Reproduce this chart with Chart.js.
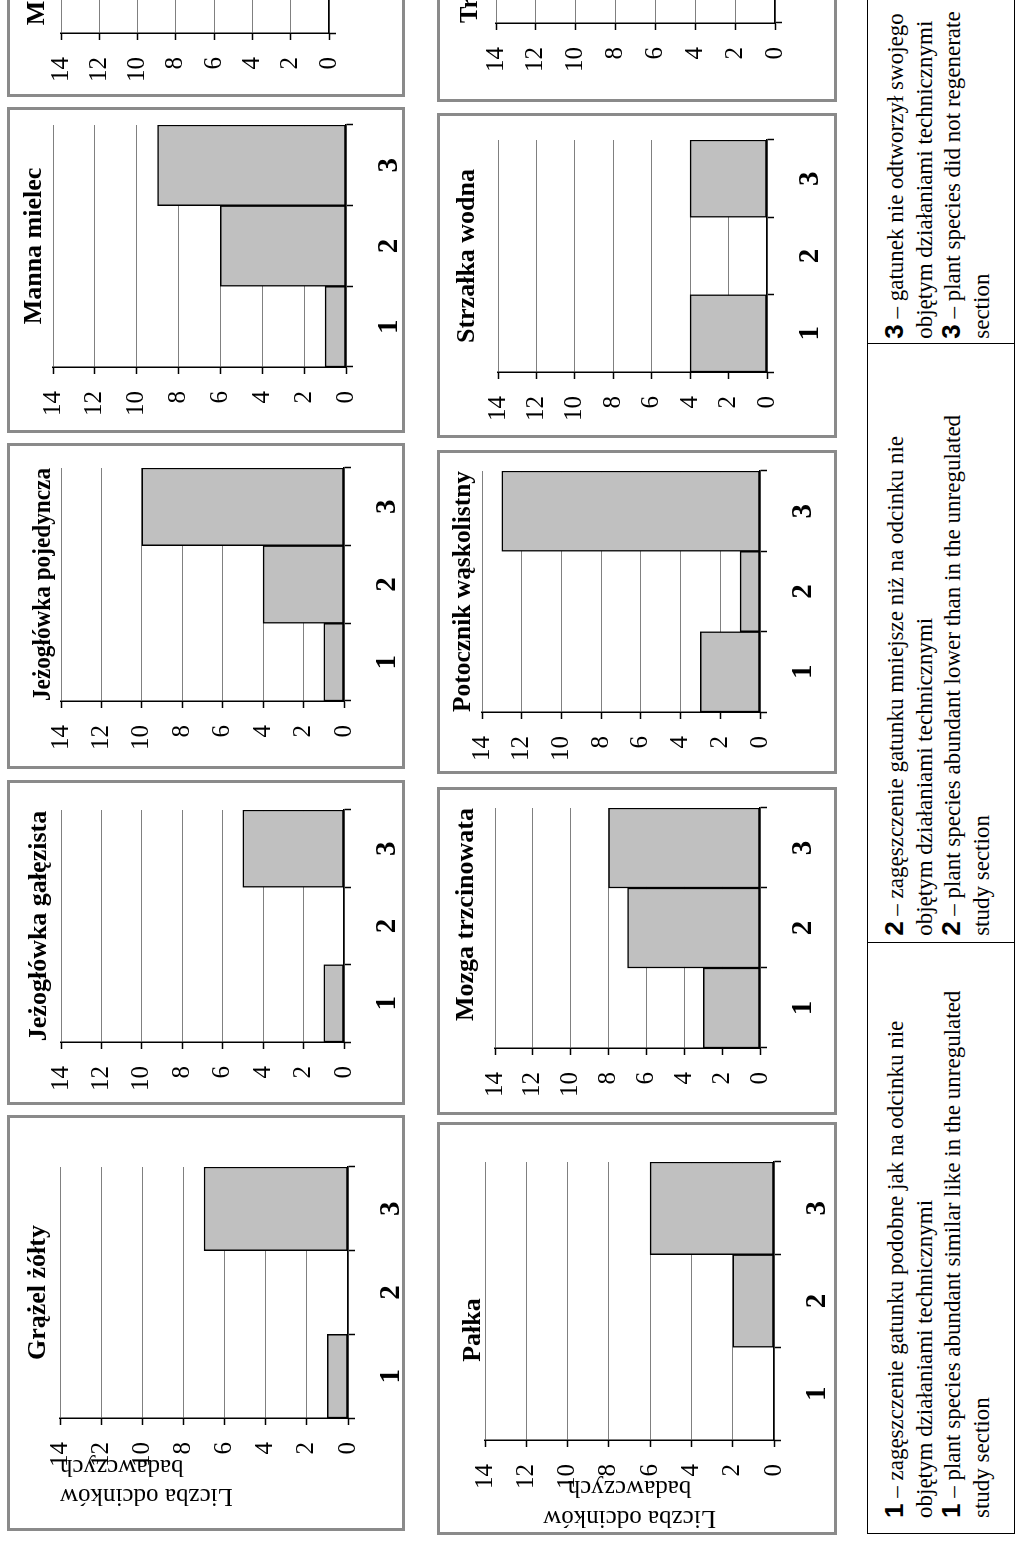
<!DOCTYPE html>
<html lang="pl">
<head>
<meta charset="utf-8">
<script src="https://cdn.jsdelivr.net/npm/chart.js@4.4.1/dist/chart.umd.min.js"></script>
<style>
  html, body { margin:0; padding:0; background:#fff; overflow:hidden; width:1024px; height:1541px; }
  #page { position:absolute; left:0; top:0; width:1541px; height:1024px; background:#fff; overflow:hidden;
          transform-origin:0 0; transform: translate(0px, 1541px) rotate(-90deg); }
  .panel { position:absolute; box-sizing:border-box; border:3px solid #8a8a8a; background:#fff; }
  canvas.c { position:absolute; }
  #legend { position:absolute; left:7px; top:867px; width:1650px; height:148px; box-sizing:border-box;
            border:1.5px solid #000; display:flex; }
  .cell { box-sizing:border-box; height:100%; border-right:1.5px solid #000; padding-top:14px;
          font-family:"Liberation Serif","Times New Roman",serif; font-size:23px; line-height:28.5px; color:#000; }
  .cell div { white-space:nowrap; }
  .num { font-family:"Liberation Sans", Arial, sans-serif; font-weight:bold; font-size:26px; line-height:20px; }
</style>
</head>
<body>
<div id="page"></div>
<script>
// ---------- data ----------
const categories = ['1', '2', '3'];
const valueTicks = [0, 2, 4, 6, 8, 10, 12, 14];
const speciesTitles = ['Grążel żółty', 'Jeżogłówka gałęzista', 'Jeżogłówka pojedyncza', 'Manna mielec', 'Marek szerokolistny',
                       'Pałka', 'Mozga trzcinowata', 'Potocznik wąskolistny', 'Strzałka wodna', 'Trzcina pospolita'];
const grazelZolty          = [1, 0, 7];
const jezoglowkaGalezista  = [1, 0, 5];
const jezoglowkaPojedyncza = [1, 4, 10];
const mannaMielec          = [1, 6, 9];
const marekSzerokolistny   = [0, null, null];   // only the start of this panel is visible
const palka                = [0, 2, 6];
const mozgaTrzcinowata     = [3, 7, 8];
const potocznikWaskolistny = [3, 1, 13];
const strzalkaWodna        = [4, 0, 4];
const trzcinaPospolita     = [0, null, null];   // only the start of this panel is visible
const axisTitle = ['Liczba odcinków', 'badawczych'];
const legendCells = [
  ['1', ' – zagęszczenie gatunku podobne jak na odcinku nie', 'objętym działaniami technicznymi',
   '1', ' – plant species abundant similar like in the unregulated', 'study section'],
  ['2', ' – zagęszczenie gatunku mniejsze niż na odcinku nie', 'objętym działaniami technicznymi',
   '2', ' – plant species abundant lower than in the unregulated', 'study section'],
  ['3', ' – gatunek nie odtworzył swojego', 'objętym działaniami technicznymi',
   '3', ' – plant species did not regenerate', 'section']
];

// ---------- layout (page drawn unrotated, then turned) ----------
// box: panel [x, y, w, h]; plot: [left, top, right, bottom]; tc: title centre line;
// full/padL: title spans [padL, plot right] when full, else the plot width
const panelLayout = [
  {values: grazelZolty,          t: 0, box:[10, 7, 416, 398],    plot:[123, 60, 374, 348],   tc:38,  full:false, align:'center', ytitle:{align:'end', x1:45, lh:29}},
  {values: jezoglowkaGalezista,  t: 1, box:[436, 7, 325, 398],   plot:[499, 61, 731, 344],   tc:39,  full:false, align:'center'},
  {values: jezoglowkaPojedyncza, t: 2, box:[772, 7, 326, 398],   plot:[840, 61, 1073, 344],  tc:43,  full:false, align:'center'},
  {values: mannaMielec,          t: 3, box:[1108, 7, 326, 398],  plot:[1174, 53, 1416, 346], tc:34,  full:false, align:'center'},
  {values: marekSzerokolistny,   t: 4, box:[1444, 7, 326, 398],  plot:[1508, 61, 1750, 329], tc:37,  full:false, align:'center'},
  {values: palka,                t: 5, box:[6, 437, 413, 400],   plot:[101, 485, 379, 774],  tc:473, full:true,  padL:37, align:'center', ytitle:{align:'center', x1:23, lh:30}},
  {values: mozgaTrzcinowata,     t: 6, box:[426, 437, 328, 400], plot:[493, 495, 733, 760],  tc:466, full:false, align:'end'},
  {values: potocznikWaskolistny, t: 7, box:[767, 437, 324, 400], plot:[829, 482, 1070, 760], tc:463, full:false, align:'center'},
  {values: strzalkaWodna,        t: 8, box:[1103, 437, 325, 400],plot:[1169, 498, 1401, 767],tc:467, full:false, align:'center'},
  {values: trzcinaPospolita,     t: 9, box:[1439, 437, 326, 400],plot:[1518, 496, 1700, 775],tc:470, full:false, align:'center'}
];

const SERIF = '"Liberation Serif", "Times New Roman", serif';
Chart.defaults.font.family = SERIF;
Chart.defaults.color = '#000';

const page = document.getElementById('page');

panelLayout.forEach(p => {
  const [bx, by, bw, bh] = p.box;
  const L = p.plot[0] - bx, T = p.plot[1] - by, R = p.plot[2] - bx, B = p.plot[3] - by;
  const TC = p.tc - by;
  const tLH = 31;
  const padL = p.full ? p.padL : 0;

  const div = document.createElement('div');
  div.className = 'panel';
  div.style.left = bx + 'px'; div.style.top = by + 'px';
  div.style.width = bw + 'px'; div.style.height = bh + 'px';
  page.appendChild(div);

  const cv = document.createElement('canvas');
  cv.className = 'c';
  cv.width = bw; cv.height = bh;
  cv.style.left = bx + 'px'; cv.style.top = by + 'px';
  cv.style.width = bw + 'px'; cv.style.height = bh + 'px';
  page.appendChild(cv);

  const yTitle = p.ytitle ? {
    display: true, text: axisTitle, align: p.ytitle.align, color: '#000',
    font: {family: SERIF, size: 25, lineHeight: p.ytitle.lh + 'px'},
    padding: {top: (p.ytitle.x1 - bx) - padL - p.ytitle.lh / 2, bottom: 0}
  } : {display: false};

  new Chart(cv, {
    type: 'bar',
    data: {
      labels: categories,
      datasets: [{
        data: p.values,
        backgroundColor: '#c0c0c0',
        borderColor: '#000',
        borderWidth: 1.5,
        borderSkipped: false,
        barPercentage: 1,
        categoryPercentage: 1
      }]
    },
    options: {
      responsive: false,
      animation: false,
      events: [],
      layout: {padding: {left: padL, right: bw - R, top: 0, bottom: 0}},
      plugins: {
        legend: {display: false},
        tooltip: {enabled: false},
        title: {
          display: true, text: speciesTitles[p.t], fullSize: p.full, align: p.align, color: '#000',
          font: {family: SERIF, size: 26, weight: 'bold', lineHeight: tLH + 'px'},
          padding: {top: TC - tLH / 2, bottom: T - TC - tLH / 2}
        }
      },
      scales: {
        x: {
          type: 'category',
          offset: true,
          grid: {offset: true, drawOnChartArea: false, drawTicks: true, tickLength: 7, tickColor: '#000', tickWidth: 1.5},
          border: {display: true, color: '#000', width: 1.5},
          ticks: {color: '#000', padding: 19, maxRotation: 0, autoSkip: false,
                  font: {family: SERIF, size: 29, weight: 'bold', lineHeight: 1.2}},
          afterFit: s => { s.height = bh - B; }
        },
        y: {
          min: 0, max: 14,
          afterBuildTicks: s => { s.ticks = valueTicks.map(v => ({value: v})); },
          grid: {color: '#808080', lineWidth: 1, drawTicks: true, tickLength: 7, tickColor: '#000', tickWidth: 1.5},
          border: {display: true, color: '#000', width: 1.5},
          ticks: {color: '#000', padding: 17, font: {family: SERIF, size: 25}},
          title: yTitle,
          afterFit: s => { s.width = L - padL; }
        }
      }
    }
  });
});

// ---------- legend table ----------
const legend = document.createElement('div');
legend.id = 'legend';
const cellWidths = [594, 602, 460];
const cellPad = [15, 6, 4];
legendCells.forEach((c, i) => {
  const cell = document.createElement('div');
  cell.className = 'cell';
  cell.style.width = cellWidths[i] + 'px';
  cell.style.paddingLeft = cellPad[i] + 'px';
  const l1 = document.createElement('div');
  l1.innerHTML = '<span class="num">' + c[0] + '</span>' + c[1];
  const l2 = document.createElement('div'); l2.textContent = c[2];
  const l3 = document.createElement('div');
  l3.innerHTML = '<span class="num">' + c[3] + '</span>' + c[4];
  const l4 = document.createElement('div'); l4.textContent = c[5];
  [l1, l2, l3, l4].forEach(e => cell.appendChild(e));
  legend.appendChild(cell);
});
page.appendChild(legend);
</script>
</body>
</html>
